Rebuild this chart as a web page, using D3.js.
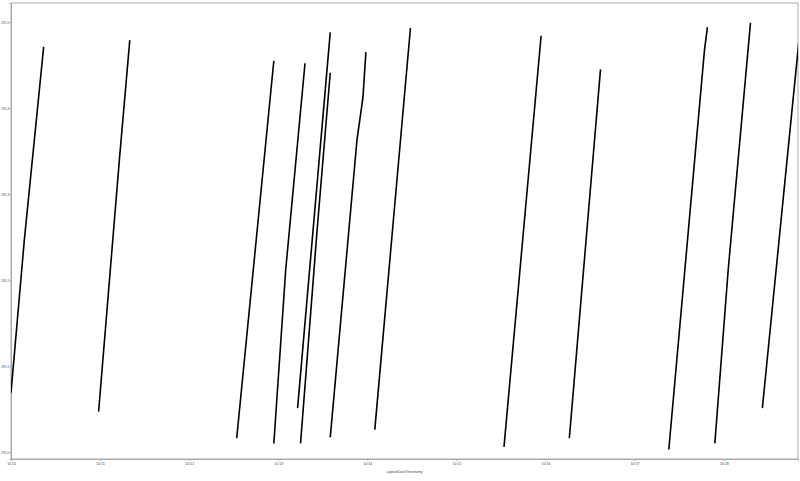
<!DOCTYPE html>
<html>
<head>
<meta charset="utf-8">
<script src="https://cdn.jsdelivr.net/npm/d3@7"></script>
<style>
  body { margin: 0; background: #fff; }
  .axis text { font-family: "Liberation Sans", sans-serif; font-size: 3.5px; fill: #444; }
  .y.axis text { font-size: 3.2px; }
  .axis path, .axis line { stroke: #aaa; }
  .line { fill: none; stroke: #000; stroke-width: 1.6; }
</style>
</head>
<body>
<script>
// each run: [time, value]
var run1  = [["10:10:00", 195.069], ["10:10:09", 195.247], ["10:10:22", 195.471]];
var run2  = [["10:10:59", 195.047], ["10:11:13", 195.340], ["10:11:20", 195.479]];
var run3  = [["10:12:32", 195.016], ["10:12:57", 195.455]];
var run4  = [["10:12:57", 195.010], ["10:13:05", 195.212], ["10:13:18", 195.452]];
var run5  = [["10:13:13", 195.051], ["10:13:35", 195.488]];
var run6  = [["10:13:15", 195.010], ["10:13:26", 195.255], ["10:13:35", 195.441]];
var run7  = [["10:13:35", 195.017], ["10:13:53", 195.363], ["10:13:57", 195.412], ["10:13:59", 195.465]];
var run8  = [["10:14:05", 195.026], ["10:14:29", 195.493]];
var run9  = [["10:15:32", 195.006], ["10:15:57", 195.484]];
var run10 = [["10:16:16", 195.016], ["10:16:37", 195.445]];
var run11 = [["10:17:23", 195.003], ["10:17:47", 195.467], ["10:17:49", 195.494]];
var run12 = [["10:17:54", 195.010], ["10:18:03", 195.212], ["10:18:18", 195.499]];
var run13 = [["10:18:26", 195.051], ["10:18:51", 195.485]];
var runs = [run1, run2, run3, run4, run5, run6, run7, run8, run9, run10, run11, run12, run13];

var xDomain = ["10:10:00", "10:18:50"];
var yDomain = [194.9919, 195.5221];
var yTicks = [195.0, 195.1, 195.2, 195.3, 195.4, 195.5];
var xLabel = "captureDateTimestamp";

var margin = {top: 3, right: 2, bottom: 22, left: 11},
  width = 800 - margin.left - margin.right,
  height = 481 - margin.top - margin.bottom;

var parseTime = d3.timeParse("%H:%M:%S");

var x = d3.scaleTime()
  .domain(xDomain.map(parseTime))
  .range([0, width]);

var y = d3.scaleLinear()
  .domain(yDomain)
  .range([height, 0]);

var svg = d3.select("body").append("svg")
  .attr("width", 800)
  .attr("height", 481)
.append("g")
  .attr("transform", "translate(" + margin.left + "," + margin.top + ")");

svg.append("clipPath")
    .attr("id", "clip")
  .append("rect")
    .attr("width", width)
    .attr("height", height);

// frame
svg.append("rect")
    .attr("width", width)
    .attr("height", height)
    .attr("fill", "none")
    .attr("stroke", "#aaa");

var xAxis = d3.axisBottom(x)
  .ticks(d3.timeMinute.every(1))
  .tickFormat(d3.timeFormat("%H:%M"))
  .tickSize(2)
  .tickPadding(2);

var yAxis = d3.axisLeft(y)
  .tickValues(yTicks)
  .tickFormat(d3.format(".1f"))
  .tickSize(1.5)
  .tickPadding(0.5);

svg.append("g")
    .attr("class", "x axis")
    .attr("transform", "translate(0," + height + ")")
    .call(xAxis);

svg.append("g")
    .attr("class", "y axis")
    .call(yAxis);

svg.append("text")
    .attr("x", width / 2)
    .attr("y", height + 14)
    .attr("text-anchor", "middle")
    .style("font-family", "Liberation Sans, sans-serif")
    .style("font-size", "3.5px")
    .style("fill", "#444")
    .text(xLabel);

var line = d3.line()
  .x(function(d) { return x(parseTime(d[0])); })
  .y(function(d) { return y(d[1]); });

svg.append("g")
    .attr("clip-path", "url(#clip)")
  .selectAll("path")
  .data(runs)
  .enter().append("path")
    .attr("class", "line")
    .attr("d", line);
</script>
</body>
</html>
